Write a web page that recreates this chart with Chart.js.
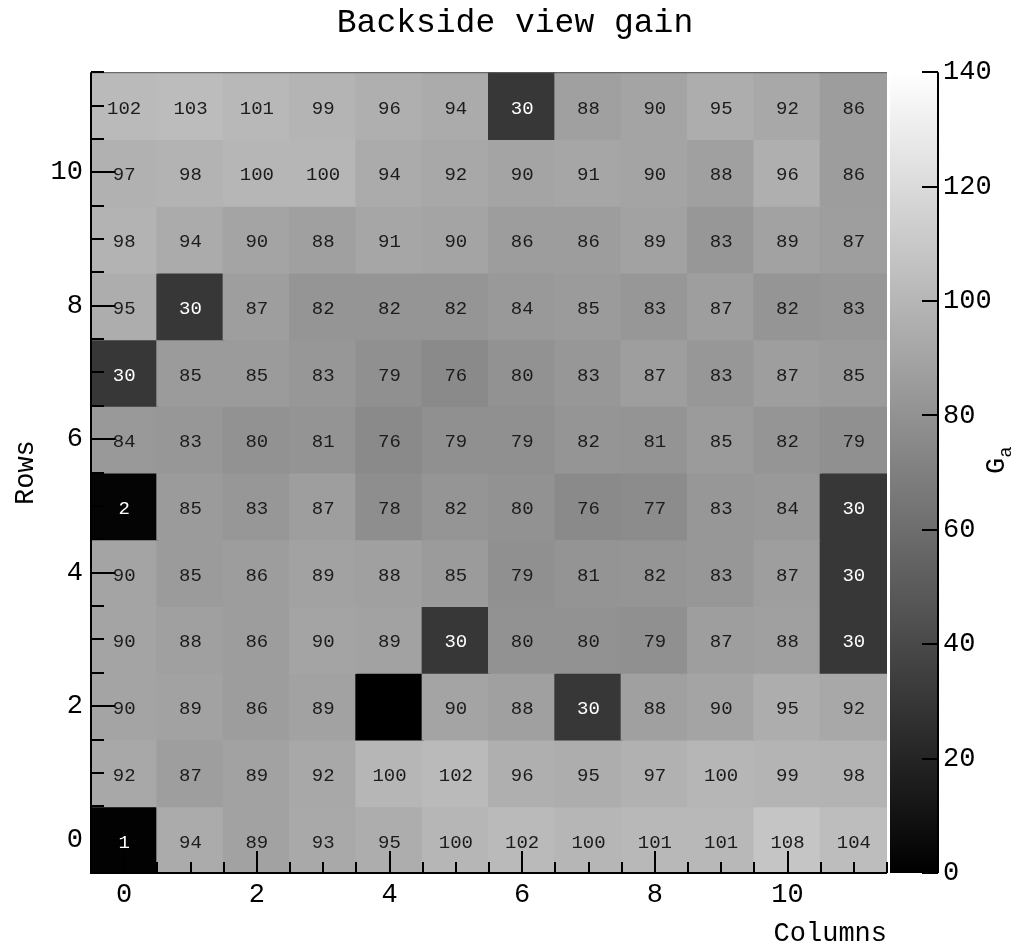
<!DOCTYPE html>
<html>
<head>
<meta charset="utf-8">
<title>Backside view gain</title>
<script src="https://cdn.jsdelivr.net/npm/chart.js@4/dist/chart.umd.min.js"></script>
<style>
    html, body { margin: 0; padding: 0; background: #fff; }
</style>
</head>
<body>
<canvas id="gainChart" width="1013" height="947"></canvas>
<script>
const columns = [0, 1, 2, 3, 4, 5, 6, 7, 8, 9, 10, 11];
const rows = [0, 1, 2, 3, 4, 5, 6, 7, 8, 9, 10, 11];
// gain per row, row 0 (bottom) first
const gain = [
    [1, 94, 89, 93, 95, 100, 102, 100, 101, 101, 108, 104],
    [92, 87, 89, 92, 100, 102, 96, 95, 97, 100, 99, 98],
    [90, 89, 86, 89, 0, 90, 88, 30, 88, 90, 95, 92],
    [90, 88, 86, 90, 89, 30, 80, 80, 79, 87, 88, 30],
    [90, 85, 86, 89, 88, 85, 79, 81, 82, 83, 87, 30],
    [2, 85, 83, 87, 78, 82, 80, 76, 77, 83, 84, 30],
    [84, 83, 80, 81, 76, 79, 79, 82, 81, 85, 82, 79],
    [30, 85, 85, 83, 79, 76, 80, 83, 87, 83, 87, 85],
    [95, 30, 87, 82, 82, 82, 84, 85, 83, 87, 82, 83],
    [98, 94, 90, 88, 91, 90, 86, 86, 89, 83, 89, 87],
    [97, 98, 100, 100, 94, 92, 90, 91, 90, 88, 96, 86],
    [102, 103, 101, 99, 96, 94, 30, 88, 90, 95, 92, 86]
];
const zMin = 0;
const zMax = 140;

const mono = '"Liberation Mono", "Courier New", monospace';

function grey(v) {
    const g = Math.max(0, Math.min(255, Math.round((v - zMin) / (zMax - zMin) * 255)));
    return 'rgb(' + g + ',' + g + ',' + g + ')';
}

const cells = [];
rows.forEach(r => {
    columns.forEach(c => {
        cells.push({ x: c, y: [r - 0.5, r + 0.5], v: gain[r][c] });
    });
});

// labels in cells, inside ticks, frame and colour bar
const decor = {
    id: 'decor',
    afterDraw(chart) {
        const { ctx, chartArea: a, scales } = chart;
        const x = scales.x, y = scales.y, z = scales.z;
        ctx.save();

        ctx.font = '19px ' + mono;
        ctx.textAlign = 'center';
        ctx.textBaseline = 'middle';
        chart.getDatasetMeta(0).data.forEach((bar, i) => {
            const v = cells[i].v;
            if (v === 0) return;
            const p = bar.getCenterPoint();
            ctx.fillStyle = v < 50 ? '#ffffff' : '#1c1c1c';
            ctx.fillText(String(v), p.x, p.y + 3);
        });

        // white gap on the right, thin frame on top
        ctx.fillStyle = '#fff';
        ctx.fillRect(a.right, a.top - 1, 3, a.bottom - a.top + 2);
        ctx.strokeStyle = '#555';
        ctx.lineWidth = 1;
        ctx.beginPath();
        ctx.moveTo(a.left, a.top + 0.5);
        ctx.lineTo(a.right, a.top + 0.5);
        ctx.stroke();

        ctx.strokeStyle = '#000';
        ctx.lineWidth = 2;
        ctx.beginPath();
        y.ticks.forEach(t => {
            const py = Math.round(y.getPixelForValue(t.value));
            const len = (Math.abs(t.value % 2) < 1e-9) ? 24 : 13;
            ctx.moveTo(a.left, py);
            ctx.lineTo(a.left + len, py);
        });
        x.ticks.forEach(t => {
            const px = Math.round(x.getPixelForValue(t.value));
            const len = (Math.abs(t.value % 2) < 1e-9) ? 22 : 11;
            ctx.moveTo(px, a.bottom);
            ctx.lineTo(px, a.bottom - len);
        });
        // axis lines
        ctx.moveTo(a.left, a.top);
        ctx.lineTo(a.left, a.bottom + 1);
        ctx.moveTo(a.left - 1, a.bottom);
        ctx.lineTo(a.right, a.bottom);
        ctx.stroke();

        // colour bar
        const bx0 = a.right + 3, bx1 = a.right + 51;
        const top = z.getPixelForValue(zMax), bot = z.getPixelForValue(zMin);
        const grad = ctx.createLinearGradient(0, bot, 0, top);
        grad.addColorStop(0, grey(zMin));
        grad.addColorStop(1, grey(zMax));
        ctx.fillStyle = grad;
        ctx.fillRect(bx0, top, bx1 - bx0, bot - top);
        ctx.beginPath();
        ctx.moveTo(bx1, top);
        ctx.lineTo(bx1, bot);
        z.ticks.forEach(t => {
            const py = Math.round(z.getPixelForValue(t.value));
            ctx.moveTo(bx1, py);
            ctx.lineTo(bx1 - 16, py);
        });
        ctx.stroke();

        // title
        ctx.fillStyle = '#000';
        ctx.font = '33px ' + mono;
        ctx.textAlign = 'center';
        ctx.textBaseline = 'middle';
        ctx.fillText('Backside view gain', 515, 23);

        // colour axis title G_a
        ctx.translate(1004, 474);
        ctx.rotate(-Math.PI / 2);
        ctx.textAlign = 'left';
        ctx.textBaseline = 'alphabetic';
        ctx.font = '27px ' + mono;
        ctx.fillText('G', 0, 0);
        const gw = ctx.measureText('G').width;
        ctx.font = '19px ' + mono;
        ctx.fillText('a', gw, 7);
        ctx.restore();
    }
};

const tickLabel = v => (Number.isInteger(v) && v % 2 === 0) ? String(v) : '';

new Chart(document.getElementById('gainChart'), {
    type: 'bar',
    data: {
        datasets: [{
            data: cells,
            backgroundColor: ctx => grey(cells[ctx.dataIndex].v),
            borderWidth: 0,
            inflateAmount: 1,
            barPercentage: 1,
            // ticks every 0.5 make the bar ruler half a column wide
            categoryPercentage: 2
        }]
    },
    options: {
        responsive: false,
        animation: false,
        layout: { padding: { top: 44 } },
        plugins: {
            legend: { display: false },
            tooltip: { enabled: false },
            title: { display: false }
        },
        scales: {
            x: {
                type: 'linear',
                min: -0.5,
                max: 11.5,
                offset: false,
                grid: { display: false, drawTicks: false },
                border: { display: false },
                ticks: {
                    stepSize: 0.5,
                    autoSkip: false,
                    maxRotation: 0,
                    padding: 6,
                    color: '#000',
                    font: { family: mono, size: 27 },
                    callback: tickLabel
                },
                title: {
                    display: true,
                    text: 'Columns',
                    align: 'end',
                    color: '#000',
                    font: { family: mono, size: 27, lineHeight: 1 },
                    padding: 0
                },
                afterFit: s => { s.height = 74; }
            },
            y: {
                type: 'linear',
                min: -0.5,
                max: 11.5,
                grid: { display: false, drawTicks: false },
                border: { display: false },
                ticks: {
                    stepSize: 0.5,
                    autoSkip: false,
                    padding: 8,
                    color: '#000',
                    font: { family: mono, size: 27 },
                    callback: tickLabel
                },
                title: {
                    display: true,
                    text: 'Rows',
                    color: '#000',
                    font: { family: mono, size: 27, lineHeight: 1 },
                    padding: { top: 12, bottom: 0 }
                },
                afterFit: s => { s.width = 91; }
            },
            z: {
                type: 'linear',
                axis: 'y',
                position: 'right',
                min: zMin,
                max: zMax,
                grid: { display: false, drawTicks: false },
                border: { display: false },
                ticks: {
                    stepSize: 20,
                    padding: 56,
                    color: '#000',
                    font: { family: mono, size: 27 }
                },
                afterFit: s => { s.width = 126; }
            }
        }
    },
    plugins: [decor]
});
</script>
</body>
</html>
